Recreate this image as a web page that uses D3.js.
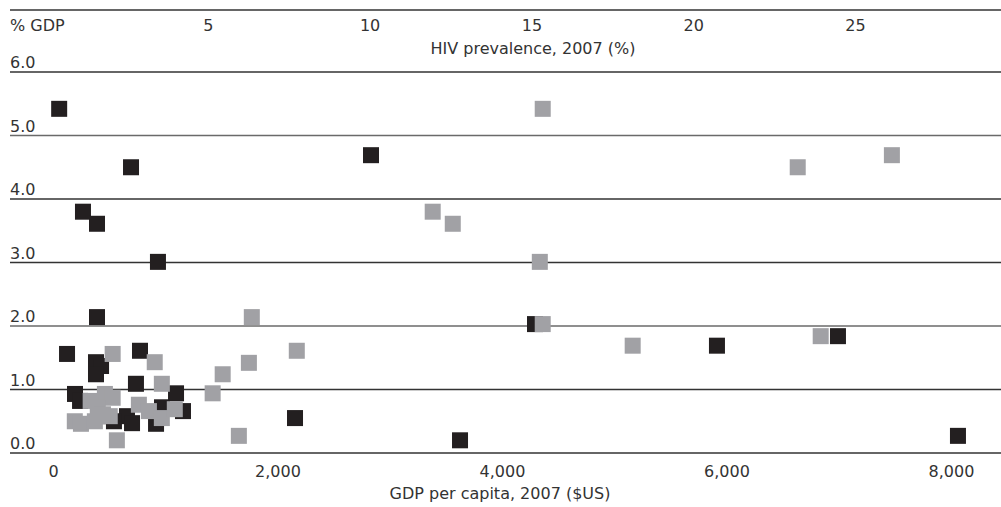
<!DOCTYPE html>
<html>
<head>
<meta charset="utf-8">
<script src="https://cdn.jsdelivr.net/npm/d3@7"></script>
<style>
  html, body { margin: 0; padding: 0; background: #fff; }
  svg text { font-family: "DejaVu Sans", sans-serif; font-size: 16px; fill: #333; }
</style>
</head>
<body>
<div id="root"></div>
<script>
// health spending, % GDP (y) against GDP per capita (black) and HIV prevalence (grey)
const gdpPerCapita = [55, 695, 2833, 267, 392, 935, 392, 4294, 5915, 6993, 3626, 8062, 2156, 125, 775,
  383, 428, 383, 739, 196, 241, 1096, 1158, 971, 918, 659, 704, 543, 437];
const gdpSpend = [5.42, 4.50, 4.69, 3.80, 3.61, 3.01, 2.14, 2.03, 1.69, 1.84, 0.20, 0.27, 0.55, 1.56, 1.61,
  1.43, 1.37, 1.24, 1.09, 0.93, 0.82, 0.94, 0.66, 0.72, 0.46, 0.58, 0.47, 0.50, 0.58];

const hivPrevalence = [15.35, 23.23, 26.14, 11.95, 12.57, 15.26, 6.36, 15.35, 18.13, 23.94, 2.06, 3.36, 3.58,
  5.46, 6.27, 7.75, 5.15, 5.96, 2.19, 2.87, 3.18, 3.58, 3.98, 1.82, 2.06, 1.38, 1.60, 1.97, 0.89, 1.08, 1.51, 1.76];
const hivSpend = [5.42, 4.50, 4.69, 3.80, 3.61, 3.01, 2.14, 2.03, 1.69, 1.84, 1.56, 1.43, 1.09,
  1.24, 1.42, 1.61, 0.94, 0.27, 0.20, 0.76, 0.66, 0.55, 0.69, 0.93, 0.87, 0.82, 0.71, 0.58, 0.50, 0.46, 0.50, 0.61];

const yTicks = [0, 1, 2, 3, 4, 5, 6];
const gdpTicks = [0, 2000, 4000, 6000, 8000];
const hivTicks = [5, 10, 15, 20, 25];

const yUnit = '% GDP';
const hivTitle = 'HIV prevalence, 2007 (%)';
const gdpTitle = 'GDP per capita, 2007 ($US)';

// geometry
const width = 1001, height = 507;
const sq = 16;

const svg = d3.select('#root').append('svg')
  .attr('width', width)
  .attr('height', height);

const y = d3.scaleLinear().domain([0, 6]).range([453, 72]);
const xGdp = d3.scaleLinear().domain([0, 8000]).range([53, 951]);
const xHiv = d3.scaleLinear().domain([0, 25]).range([46, 855]);

// top rule
svg.append('line')
  .attr('x1', 10).attr('x2', width)
  .attr('y1', 10).attr('y2', 10)
  .attr('stroke', '#333').attr('stroke-width', 1.5);

// grid lines + labels sitting on them
svg.append('g').selectAll('line')
  .data(yTicks)
  .join('line')
  .attr('x1', 10).attr('x2', width)
  .attr('y1', d => y(d)).attr('y2', d => y(d))
  .attr('stroke', d => (d === 5 || d === 2) ? '#6a6a6a' : '#333')
  .attr('stroke-width', 1.6);

svg.append('g').selectAll('text')
  .data(yTicks)
  .join('text')
  .attr('x', 10)
  .attr('y', d => y(d) - 4)
  .text(d => d.toFixed(1));

// top axis (HIV)
const gTop = svg.append('g')
  .attr('transform', 'translate(0,31)')
  .call(d3.axisTop(xHiv).tickValues(hivTicks).tickSize(0).tickPadding(0));
gTop.select('.domain').remove();
gTop.selectAll('text').attr('font-size', null).attr('font-family', null);

svg.append('text')
  .attr('x', 10).attr('y', 31)
  .text(yUnit);

svg.append('text')
  .attr('x', 533).attr('y', 54)
  .attr('text-anchor', 'middle')
  .text(hivTitle);

// bottom axis (GDP)
const gBot = svg.append('g')
  .attr('transform', `translate(0,${y(0)})`)
  .call(d3.axisBottom(xGdp).tickValues(gdpTicks).tickSize(0).tickPadding(13)
    .tickFormat(d3.format(',')));
gBot.select('.domain').remove();
gBot.selectAll('text').attr('font-size', null).attr('font-family', null);

svg.append('text')
  .attr('x', 500).attr('y', 499)
  .attr('text-anchor', 'middle')
  .text(gdpTitle);

// squares: black first, grey on top
svg.append('g').selectAll('rect')
  .data(d3.zip(gdpPerCapita, gdpSpend))
  .join('rect')
  .attr('x', d => xGdp(d[0]) - sq / 2)
  .attr('y', d => y(d[1]) - sq / 2)
  .attr('width', sq).attr('height', sq)
  .attr('fill', '#231f20');

svg.append('g').selectAll('rect')
  .data(d3.zip(hivPrevalence, hivSpend))
  .join('rect')
  .attr('x', d => xHiv(d[0]) - sq / 2)
  .attr('y', d => y(d[1]) - sq / 2)
  .attr('width', sq).attr('height', sq)
  .attr('fill', '#a1a1a5');
</script>
</body>
</html>
